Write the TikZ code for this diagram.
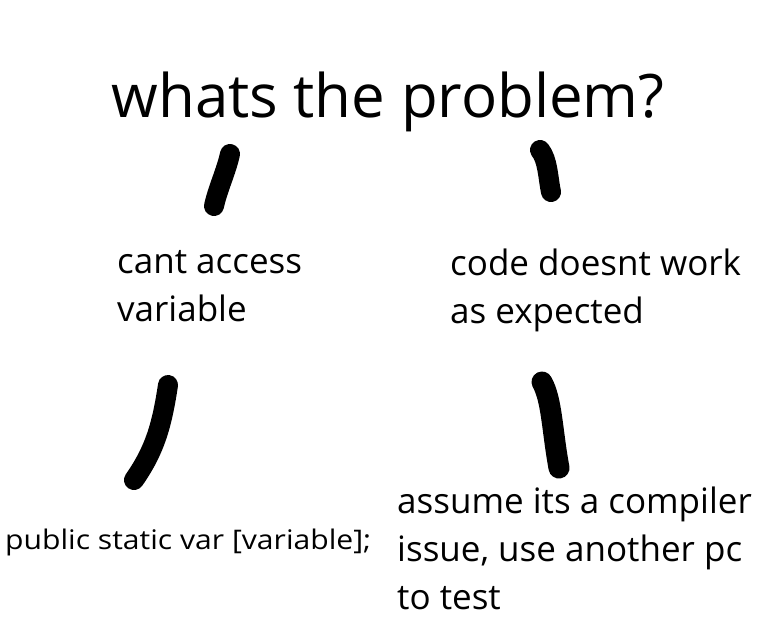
\documentclass[tikz,border=0pt]{standalone}
\usepackage{fontspec}
\setmainfont{Open Sans}
\begin{document}
\begin{tikzpicture}[x=1pt,y=-1pt,
  txt/.style={anchor=base west,inner sep=0pt,font=\fontsize{35}{45}\selectfont},
  penstroke/.style={line width=20pt,line cap=round,line join=round,black}]
\useasboundingbox (0,0) rectangle (776,616);
\fill[white] (0,0) rectangle (776,616);
\node[anchor=base,inner sep=0pt,font=\fontsize{60}{64}\selectfont] (title) at (388,117) {whats the problem?};
% strokes
\coordinate (s1a) at (230,154); \coordinate (s1b) at (214,206);
\draw[penstroke] (s1a) .. controls (226,172) and (218,188) .. (s1b);
\coordinate (s2a) at (540,150); \coordinate (s2b) at (551,192);
\draw[penstroke] (s2a) .. controls (548,160) and (548,178) .. (s2b);
\coordinate (s3a) at (168,385); \coordinate (s3b) at (134,480);
\draw[penstroke] (s3a) .. controls (162,425) and (155,450) .. (s3b);
\coordinate (s4a) at (542,382); \coordinate (s4b) at (559,468);
\draw[penstroke,line width=21pt] (s4a) .. controls (552,400) and (552,430) .. (s4b);
% labels
\node[txt] (l1a) at (117,273) {cant access};
\node[txt] (l1b) at (117,321) {variable};
\node[txt] (l2a) at (450,275) {code doesnt work};
\node[txt] (l2b) at (450,323) {as expected};
\node[txt,font=\fontsize{27}{30}\selectfont] (l3) at (5,549) {\scalebox{1.115}[1]{public static var [variable];}};
\node[txt] (l4a) at (397,513) {assume its a compiler};
\node[txt] (l4b) at (397,561) {issue, use another pc};
\node[txt] (l4c) at (397,609) {to test};
\end{tikzpicture}
\end{document}
